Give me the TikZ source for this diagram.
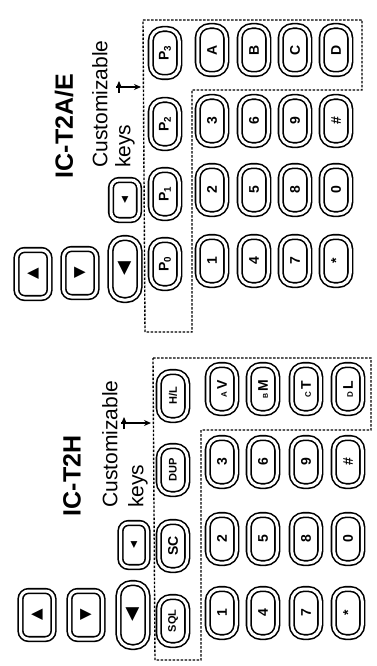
\documentclass[tikz,border=0pt]{standalone}
\usepackage{fontspec}
\setmainfont{Liberation Sans}
\newfontfamily\symfont{DejaVu Sans}
\usepackage{tikz}
\usetikzlibrary{arrows.meta}
\usetikzlibrary{decorations.markings}
\tikzstyle{key}=[draw,double,double distance=3pt,line width=1.6pt,rotate=90,inner sep=0pt,minimum width=48pt,minimum height=28.5pt,rounded corners=12pt,font=\bfseries\fontsize{14}{14}\selectfont]
\tikzstyle{navkey}=[key,minimum height=33pt,rounded corners=8pt,font=\symfont\fontsize{15}{15}\selectfont]

\begin{document}
\begin{tikzpicture}[x=1pt,y=-1pt]
\tikzstyle{title}=[rotate=90,inner sep=0pt,font=\bfseries\fontsize{25}{25}\selectfont]
\tikzstyle{note}=[rotate=90,inner sep=0pt,anchor=north west,align=left,font=\fontsize{21}{23}\selectfont]
\tikzstyle{dashbox}=[line width=1.4pt,dash pattern=on 2.5pt off 1.5pt]
\tikzstyle{pointer}=[line width=1.3pt,-{Stealth[length=7pt,width=6pt]},postaction={decorate},
  decoration={markings,mark=at position 3pt with {\draw[line width=1.3pt] (0,-6pt) -- (0,6pt);}}]
\useasboundingbox (0,0) rectangle (377,666);
% IC-T2A/E
\node [title] (titleA) at (64,126) {IC-T2A/E};
\node [note] (noteA) at (92,168) {Customizable\\keys};
\draw [dashbox] (143,20) -- (362,20) -- (362,90) -- (192,90) -- (192,332) -- (145,332) -- cycle;
\coordinate (fromA) at (116,87);
\coordinate (boxA) at (141,87);
\draw [pointer] (fromA) -- (boxA);
\node [navkey] (upA) at (33,274) {▲};
\node [navkey] (downA) at (80,273) {▼};
\node [navkey,minimum width=62pt,minimum height=29pt,rounded corners=13pt,font=\symfont\fontsize{18}{18}\selectfont] (clrA) at (125,269) {◀};
\node [navkey,minimum width=40pt,minimum height=28pt,font=\symfont\fontsize{9}{9}\selectfont] (backA) at (125,200) {◀};
\node [key] (p0) at (165,264) {P\textsubscript{0}};
\node [key] (p1) at (165,194) {P\textsubscript{1}};
\node [key] (p2) at (165,124) {P\textsubscript{2}};
\node [key] (p3) at (165,53) {P\textsubscript{3}};
\node [key] (a1) at (212,261) {1};
\node [key] (a2) at (212,190) {2};
\node [key] (a3) at (212,121) {3};
\node [key] (aA) at (212,50) {A};
\node [key] (a4) at (254,261) {4};
\node [key] (a5) at (254,190) {5};
\node [key] (a6) at (254,121) {6};
\node [key] (aB) at (254,50) {B};
\node [key] (a7) at (295,261) {7};
\node [key] (a8) at (295,190) {8};
\node [key] (a9) at (295,121) {9};
\node [key] (aC) at (295,50) {C};
\node [key] (astar) at (336,261) {*};
\node [key] (a0) at (336,190) {0};
\node [key] (ahash) at (336,121) {\#};
\node [key] (aD) at (336,50) {D};
% IC-T2H
\node [title] (titleH) at (72,476) {IC-T2H};
\node [note,font=\fontsize{21}{26}\selectfont] (noteH) at (102,508) {Customizable\\keys};
\draw [dashbox] (153,358) -- (371,358) -- (371,430) -- (201,430) -- (201,660) -- (155,660) -- cycle;
\coordinate (fromH) at (121,423);
\coordinate (boxH) at (151,423);
\draw [pointer] (fromH) -- (boxH);
\node [navkey] (upH) at (37,615) {▲};
\node [navkey] (downH) at (86,615) {▼};
\node [navkey,minimum width=64pt,minimum height=29pt,rounded corners=13pt,font=\symfont\fontsize{18}{18}\selectfont] (clrH) at (133,615) {◀};
\node [navkey,minimum width=44pt,minimum height=27pt,font=\symfont\fontsize{9}{9}\selectfont] (backH) at (134,545) {◀};
\node [key,font=\bfseries\fontsize{11}{11}\selectfont] (sql) at (173,621) {SQL};
\node [key] (sc) at (173,546) {SC};
\node [key,font=\bfseries\fontsize{11}{11}\selectfont] (dup) at (173,470) {DUP};
\node [key,font=\bfseries\fontsize{11}{11}\selectfont] (hl) at (173,396) {H/L};
\node [key] (h1) at (222,613) {1};
\node [key] (h2) at (222,539) {2};
\node [key] (h3) at (222,462) {3};
\node [key] (hav) at (222,389) {{\fontsize{8}{8}\selectfont A}\,V};
\node [key] (h4) at (263,613) {4};
\node [key] (h5) at (263,539) {5};
\node [key] (h6) at (263,462) {6};
\node [key] (hbm) at (263,389) {{\fontsize{7}{7}\selectfont B}\,M};
\node [key] (h7) at (306,613) {7};
\node [key] (h8) at (306,539) {8};
\node [key] (h9) at (306,462) {9};
\node [key] (hct) at (306,389) {{\fontsize{8}{8}\selectfont C}\,T};
\node [key] (hstar) at (348,613) {*};
\node [key] (h0) at (348,539) {0};
\node [key] (hhash) at (348,462) {\#};
\node [key] (hdl) at (348,389) {{\fontsize{8}{8}\selectfont D}\,L};
\end{tikzpicture}
\end{document}
